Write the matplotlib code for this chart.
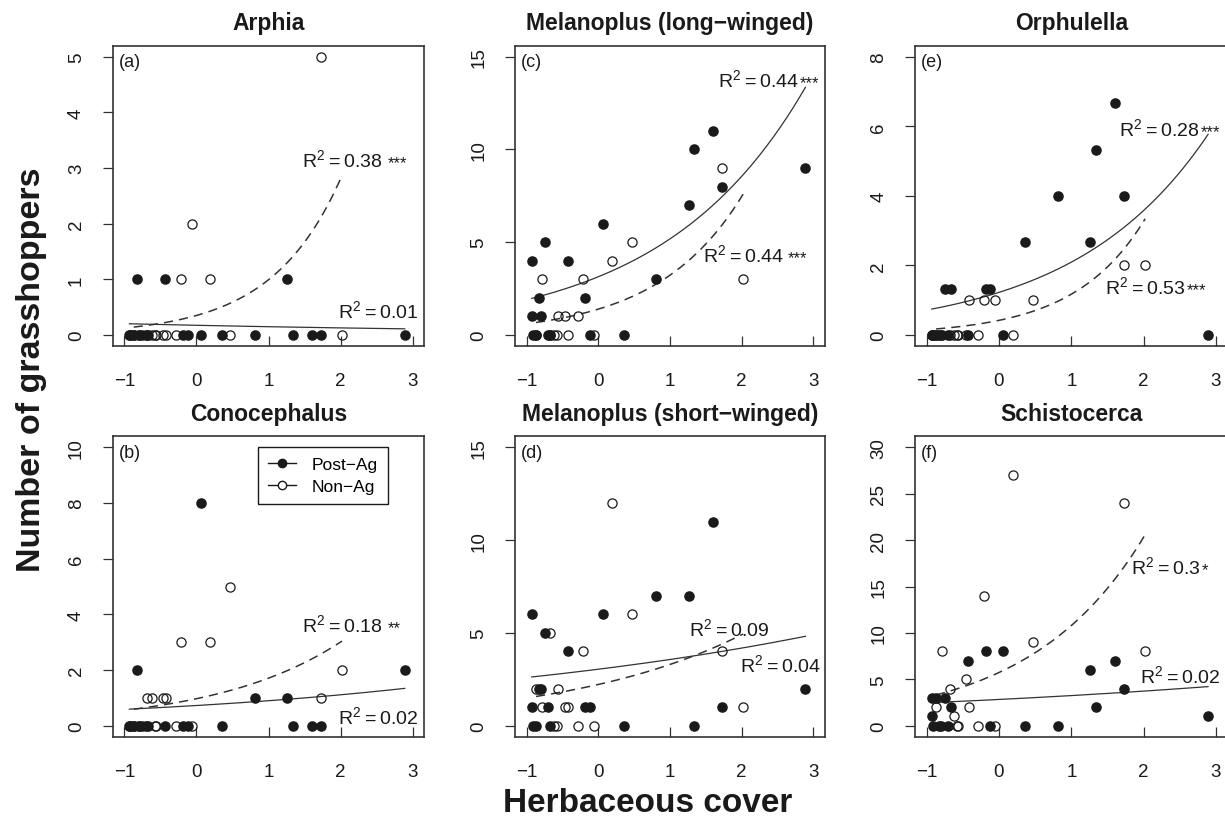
import matplotlib
matplotlib.use("Agg")
import matplotlib.pyplot as plt
from matplotlib.lines import Line2D
import numpy as np

plt.rcParams['font.family'] = ['Liberation Sans', 'DejaVu Sans']
plt.rcParams['mathtext.fontset'] = 'custom'
plt.rcParams['mathtext.rm'] = 'Liberation Sans'
plt.rcParams['mathtext.it'] = 'Liberation Sans'

# herbaceous cover of each site (same sites in every panel)
post_x = [-0.93, -0.92, -0.91, -0.87, -0.83, -0.80, -0.75, -0.70, -0.67, -0.43,
          -0.18, -0.12, 0.06, 0.36, 0.81, 1.26, 1.34, 1.60, 1.73, 2.89]
non_x = [-0.87, -0.79, -0.68, -0.62, -0.58, -0.56, -0.46, -0.42, -0.29, -0.21,
         -0.06, 0.19, 0.47, 1.73, 2.02]

# grasshopper counts per site
arphia_post = [0, 0, 0, 0, 1, 0, 0, 0, 0, 1, 0, 0, 0, 0, 0, 1, 0, 0, 0, 0]
arphia_non = [0, 0, 0, 0, 0, 0, 0, 0, 0, 1, 2, 1, 0, 5, 0]
melong_post = [4, 1, 0, 0, 2, 1, 5, 0, 0, 4, 2, 0, 6, 0, 3, 7, 10, 11, 8, 9]
melong_non = [0, 3, 0, 0, 0, 1, 1, 0, 1, 3, 0, 4, 5, 9, 3]
orph_post = [0, 0, 0, 0, 0, 0, 1.33, 0, 1.33, 0, 1.33, 1.33, 0, 2.67, 4, 2.67,
             5.33, 6.67, 4, 0]
orph_non = [0, 0, 0, 0, 0, 0, 0, 1, 0, 1, 1, 0, 1, 2, 2]
cono_post = [0, 0, 0, 0, 2, 0, 0, 0, 0, 0, 0, 0, 8, 0, 1, 1, 0, 0, 0, 2]
cono_non = [0, 0, 1, 1, 0, 0, 1, 1, 0, 3, 0, 3, 5, 1, 2]
meshort_post = [6, 1, 0, 0, 2, 2, 5, 1, 0, 4, 1, 1, 6, 0, 7, 7, 0, 11, 1, 2]
meshort_non = [2, 1, 5, 0, 0, 2, 1, 1, 0, 4, 0, 12, 6, 4, 1]
schist_post = [1, 3, 0, 3, 0, 0, 3, 0, 2, 7, 8, 0, 8, 0, 0, 6, 2, 7, 4, 1]
schist_non = [2, 8, 4, 1, 0, 0, 5, 2, 0, 14, 0, 27, 9, 24, 8]

# fitted curves y = exp(a + b*x): (a, b)
arphia_fit = [(-1.75, -0.157), (-1.049, 1.041)]
melong_fit = [(1.144, 0.501), (0.332, 0.839)]
orph_fit = [(0.203, 0.536), (-0.867, 1.026)]
cono_fit = [(-0.322, 0.213), (-0.031, 0.566)]
meshort_fit = [(1.113, 0.159), (0.798, 0.396)]
schist_fit = [(1.039, 0.138), (1.746, 0.633)]

# R^2 labels: (value, stars, x, y, gap)
arphia_r2 = [("0.01", "", 1.97, 0.44, 0), ("0.38", "***", 1.47, 3.16, 3)]
melong_r2 = [("0.44", "***", 1.67, 13.8, 0.5), ("0.44", "***", 1.46, 4.37, 3)]
orph_r2 = [("0.28", "***", 1.66, 5.95, 0.5), ("0.53", "***", 1.47, 1.41, 0.5)]
cono_r2 = [("0.02", "", 1.97, 0.36, 0), ("0.18", "**", 1.47, 3.65, 3)]
meshort_r2 = [("0.04", "", 1.97, 3.3, 0), ("0.09", "", 1.27, 5.27, 0)]
schist_r2 = [("0.02", "", 1.95, 5.5, 0), ("0.3", "*", 1.83, 17.25, 0.5)]

panels = [
    ("Arphia", "(a)", arphia_post, arphia_non, arphia_fit, arphia_r2, 5, 1),
    ("Melanoplus (long\u2212winged)", "(c)", melong_post, melong_non, melong_fit, melong_r2, 15, 5),
    ("Orphulella", "(e)", orph_post, orph_non, orph_fit, orph_r2, 8, 2),
    ("Conocephalus", "(b)", cono_post, cono_non, cono_fit, cono_r2, 10, 2),
    ("Melanoplus (short\u2212winged)", "(d)", meshort_post, meshort_non, meshort_fit, meshort_r2, 15, 5),
    ("Schistocerca", "(f)", schist_post, schist_non, schist_fit, schist_r2, 30, 5),
]

lefts = [0.0921, 0.4206, 0.7470]
widths = [0.2542, 0.2527, 0.2551]
bottoms = [0.5813, 0.1100]
height = 0.3625

ink = '#1a1a1a'
fig = plt.figure(figsize=(12.25, 8.29), dpi=100)

for i, (title, tag, yp, yn, fit, r2, ymax, ystep) in enumerate(panels):
    row, col = divmod(i, 3)
    ax = fig.add_axes([lefts[col], bottoms[row], widths[col], height])

    ax.plot(post_x, yp, 'o', color=ink, ms=6.6, mec=ink, zorder=3)
    ax.plot(non_x, yn, 'o', mfc='none', mec=ink, ms=6.6, mew=0.9, zorder=3)

    xs = np.linspace(min(post_x), max(post_x), 200)
    ax.plot(xs, np.exp(fit[0][0] + fit[0][1] * xs), '-', color='#333333', lw=0.9)
    xs = np.linspace(min(non_x), max(non_x), 200)
    ax.plot(xs, np.exp(fit[1][0] + fit[1][1] * xs), color='#333333', lw=1.1,
            linestyle=(0, (6, 4)))

    for val, stars, tx, ty, gap in r2:
        t = ax.text(tx, ty, 'R$^2$\u2009=\u2009' + val, fontsize=14, color=ink,
                    ha='left', va='center')
        if stars:
            ax.annotate(stars, xy=(1, 0), xycoords=t, xytext=(gap, 0),
                        textcoords='offset points', fontsize=12, color=ink,
                        ha='left', va='bottom')

    ax.text(0.018, 0.975, tag, transform=ax.transAxes, fontsize=13,
            ha='left', va='top', color=ink)

    ax.set_xlim(-1.16, 3.16)
    ax.set_ylim(-0.04 * ymax, 1.04 * ymax)
    ax.set_xticks([-1, 0, 1, 2, 3])
    ax.set_yticks(np.arange(0, ymax + 0.01, ystep))
    ax.tick_params(axis='x', direction='in', length=7, width=0.9, pad=19,
                   labelsize=13.5, colors='#333333', labelcolor=ink)
    ax.tick_params(axis='y', direction='out', length=7, width=0.9, pad=13,
                   labelsize=13.5, colors='#333333', labelcolor=ink,
                   labelrotation=90)
    for lab in ax.get_yticklabels():
        lab.set_va('center')
    for s in ax.spines.values():
        s.set_color('#333333')
        s.set_linewidth(1.2)
    ax.set_title(title, fontsize=16.5, fontweight='bold', pad=12, color=ink)

    if tag == "(b)":
        handles = [
            Line2D([], [], color=ink, lw=1, marker='o', ms=6, mfc=ink, mec=ink),
            Line2D([], [], color=ink, lw=1, marker='o', ms=6, mfc='white', mec=ink),
        ]
        leg = ax.legend(handles, ["Post\u2212Ag", "Non\u2212Ag"], loc='upper right',
                        bbox_to_anchor=(0.884, 0.965), borderaxespad=0,
                        fontsize=12.5, handlelength=1.6, handletextpad=0.9,
                        fancybox=False, framealpha=1, borderpad=0.6,
                        labelspacing=0.35)
        leg.get_frame().set_edgecolor(ink)
        leg.get_frame().set_linewidth(1.0)

fig.text(0.026, 0.5537, "Number of grasshoppers", rotation=90, fontsize=24.5,
         fontweight='bold', ha='center', va='center', color=ink)
fig.text(0.529, 0.031, "Herbaceous cover", fontsize=24, fontweight='bold',
         ha='center', va='center', color=ink)

fig.savefig("out.png", dpi=100)
